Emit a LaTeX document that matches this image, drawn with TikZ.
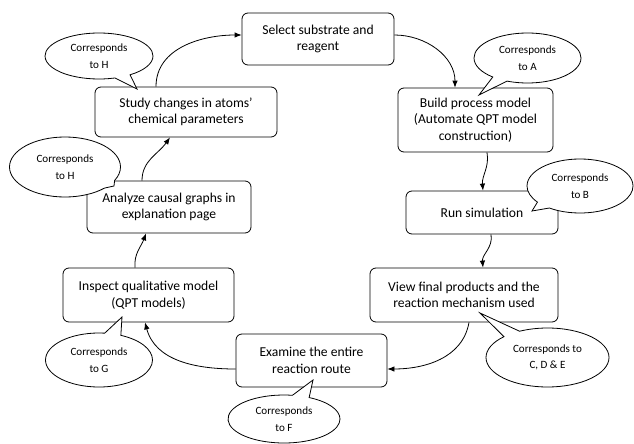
\documentclass[tikz,border=0pt]{standalone}
\usepackage{fontspec}
\setmainfont{Carlito}
\usetikzlibrary{shapes.callouts,arrows.meta,calc}
\begin{document}
\begin{tikzpicture}[x=1pt,y=-1pt,
  stepbox/.style={draw, rounded corners=6pt, line width=0.8pt, fill=white, align=center,
    inner sep=0pt, font=\fontsize{13.6}{16.5}\selectfont},
  callbox/.style={ellipse callout, draw, line width=0.8pt, fill=white, align=center,
    inner sep=0pt, callout pointer arc=18, font=\fontsize{11.1}{16.5}\selectfont},
  flow/.style={line width=0.8pt, -{Latex[length=7pt,width=5.5pt]}}]
\useasboundingbox (0,0) rectangle (634,444);
% boxes
\node[stepbox, minimum width=152pt, minimum height=52pt] (select) at (318,39) {Select substrate and\\reagent};
\node[stepbox, minimum width=155pt, minimum height=64pt] (build) at (475.5,120) {Build process model\\(Automate QPT model\\construction)};
\node[stepbox, minimum width=152pt, minimum height=43pt] (run) at (482,212.5) {Run simulation};
\node[stepbox, minimum width=188pt, minimum height=54pt] (view) at (464,295) {View final products and the\\reaction mechanism used};
\node[stepbox, minimum width=151pt, minimum height=53pt] (examine) at (311.5,360.5) {Examine the entire\\reaction route};
\node[stepbox, minimum width=171pt, minimum height=54pt] (inspect) at (148.5,295) {Inspect qualitative model\\(QPT models)};
\node[stepbox, minimum width=164pt, minimum height=52pt] (analyze) at (169,207) {Analyze causal graphs in\\explanation page};
\node[stepbox, minimum width=182pt, minimum height=50pt] (study) at (186,112) {Study changes in atoms’\\chemical parameters};
% connectors
\draw[flow] ([xshift=-30pt]study.north) to[out=90,in=180] ([yshift=4pt]select.west);
\draw[flow] ([yshift=4pt]select.east) to[out=0,in=90] ([xshift=-20.5pt]build.north);
\draw[flow] ([xshift=11.5pt]build.south) to[out=-80,in=95] ([xshift=1pt]run.north);
\draw[flow] ([xshift=9pt]run.south) to[out=-80,in=95] ([xshift=19pt]view.north);
\draw[flow] ([xshift=5pt]view.south) to[out=-100,in=0] ([yshift=-8.5pt]examine.east);
\draw[flow] ([yshift=-8.5pt]examine.west) to[out=180,in=-75] ([xshift=-3.5pt]inspect.south);
\draw[flow] ([xshift=-13.5pt]inspect.north) to[out=95,in=-110] ([xshift=-23pt]analyze.south);
\draw[flow] ([xshift=-27pt]analyze.north) to[out=90,in=-125] ([xshift=-16pt]study.south);
% callouts
\node[callbox, minimum width=108pt, minimum height=46pt, callout absolute pointer={(137,89)}] (cH1) at (99,56) {Corresponds\\to H};
\node[callbox, minimum width=107pt, minimum height=50pt, callout absolute pointer={(479,95)}] (cA) at (527.5,58) {Corresponds\\to A};
\node[callbox, minimum width=106pt, minimum height=54pt, callout absolute pointer={(532,211)}] (cB) at (580,186) {Corresponds\\to B};
\node[callbox, minimum width=111pt, minimum height=60pt, callout absolute pointer={(114,186)}] (cH2) at (65,167) {Corresponds\\to H};
\node[callbox, minimum width=107pt, minimum height=54pt, callout absolute pointer={(122,317)}] (cG) at (99,360) {Corresponds\\to G};
\node[callbox, minimum width=112pt, minimum height=48pt, callout absolute pointer={(313,380)}] (cF) at (284,419) {Corresponds\\to F};
\node[callbox, minimum width=123pt, minimum height=59pt, callout absolute pointer={(480,313)}] (cCDE) at (547.5,357.5) {Corresponds to\\C, D \& E};
\end{tikzpicture}
\end{document}
